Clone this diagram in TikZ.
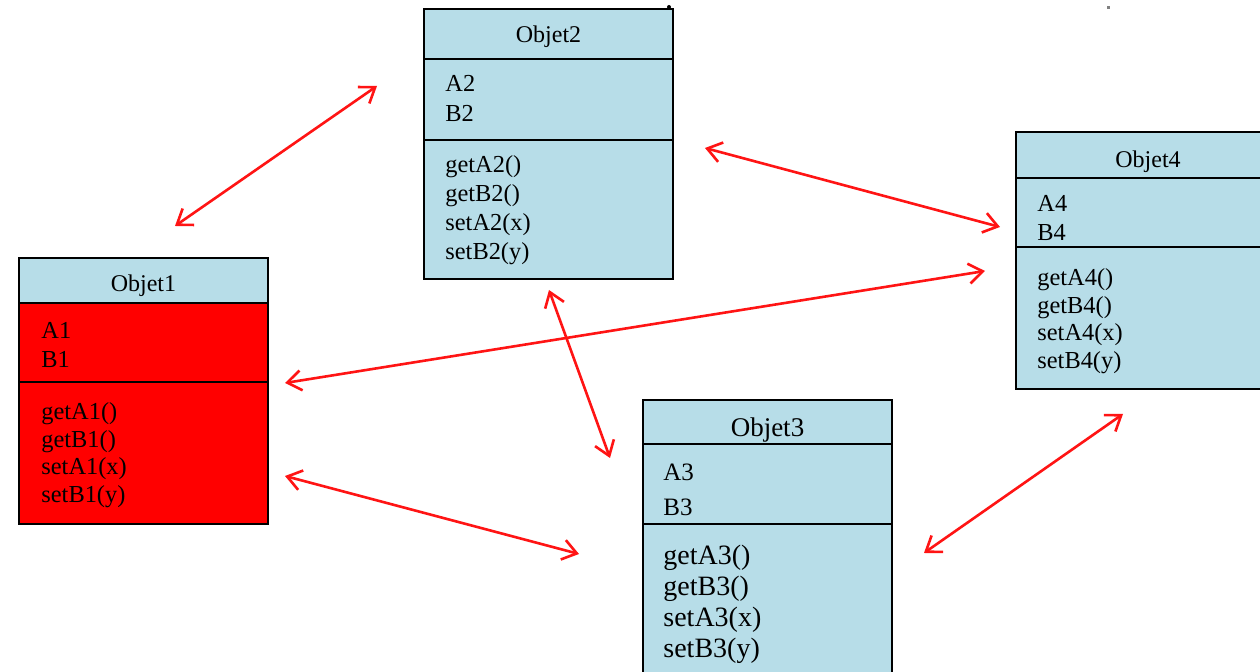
\documentclass[tikz,border=0pt]{standalone}
\usepackage{fontspec}
\setmainfont{Liberation Serif}
\usetikzlibrary{arrows.meta}

\definecolor{umlblue}{RGB}{183,221,232}
\definecolor{umlred}{RGB}{255,0,0}
\definecolor{linkred}{RGB}{255,20,20}

\tikzset{
  comp/.style={draw=black, line width=0.9pt, anchor=north west,
    minimum width=124.5pt, inner sep=0pt, outer sep=0pt, fill=umlblue},
  title/.style={font=\fontsize{12}{14}\selectfont, text depth=0pt},
  txt/.style={anchor=base west, inner sep=0pt, font=\fontsize{12.2}{14}\selectfont},
  link/.style={draw=linkred, line width=1.3pt,
    {Straight Barb[length=7pt,width=10pt]}-{Straight Barb[length=7pt,width=10pt]}}
}

% one text line per entry: prefix, x, first baseline, spacing, style, entries
\newcommand\umlrows[6]{%
  \foreach \t [count=\i] in {#6} {%
    \node[txt,#5] (#1\i) at (#2,{#3+(\i-1)*#4}) {\t};
  }%
}

\begin{document}
\begin{tikzpicture}[x=0.5pt,y=-0.5pt]
\useasboundingbox (0,0) rectangle (1260,672);
\clip (0,0) rectangle (1260,672);
\fill[white] (0,0) rectangle (1260,672);

% Objet1
\node[comp, minimum height=22.5pt, title, text height=11pt] (o1h) at (19,258) {Objet1};
\node[comp, minimum height=39.5pt, fill=umlred] (o1a) at (19,303) {};
\node[comp, minimum height=71pt, fill=umlred] (o1m) at (19,382) {};
\umlrows{o1a}{41}{339}{29}{}{A1,B1}
\umlrows{o1m}{41}{420}{27.5}{}{getA1(),getB1(),setA1(x),setB1(y)}

% Objet2
\node[comp, minimum height=25pt, title] (o2h) at (424,9) {Objet2};
\node[comp, minimum height=40.5pt] (o2a) at (424,59) {};
\node[comp, minimum height=69.5pt] (o2m) at (424,140) {};
\umlrows{o2a}{445}{92}{29.5}{}{A2,B2}
\umlrows{o2m}{445}{173}{29}{}{getA2(),getB2(),setA2(x),setB2(y)}
\fill (669,7) circle (2);

% Objet3
\node[comp, minimum height=22pt, title, font=\fontsize{13.5}{15}\selectfont, text height=15pt] (o3h) at (643,400) {Objet3};
\node[comp, minimum height=40pt] (o3a) at (643,444) {};
\node[comp, minimum height=90pt] (o3m) at (643,524) {};
\umlrows{o3a}{663}{481}{35}{font=\fontsize{12.5}{15}\selectfont}{A3,B3}
\umlrows{o3m}{663}{565}{31}{font=\fontsize{14}{16}\selectfont}{getA3(),getB3(),setA3(x),setB3(y)}

% Objet4 (runs off the right edge)
\node[comp, minimum width=132pt, minimum height=23pt, title, text height=13pt] (o4h) at (1016,132) {Objet4};
\node[comp, minimum width=132pt, minimum height=34.5pt] (o4a) at (1016,178) {};
\node[comp, minimum width=132pt, minimum height=71pt] (o4m) at (1016,247) {};
\umlrows{o4a}{1037}{212}{29}{}{A4,B4}
\umlrows{o4m}{1037}{286}{27.5}{}{getA4(),getB4(),setA4(x),setB4(y)}

\fill[gray] (1106.5,6.5) rectangle (1109.5,9.5);

% link end points
\coordinate (l1a) at (175,226);  \coordinate (l1b) at (377,86);
\coordinate (l2a) at (705,148);  \coordinate (l2b) at (1000,227);
\coordinate (l3a) at (285,383);  \coordinate (l3b) at (985,271);
\coordinate (l4a) at (549,290);  \coordinate (l4b) at (610,458);
\coordinate (l5a) at (285,476);  \coordinate (l5b) at (579,554);
\coordinate (l6a) at (924,553);  \coordinate (l6b) at (1123,414);

% links between the objects
\draw[link] (l1a) -- (l1b);
\draw[link] (l2a) -- (l2b);
\draw[link] (l3a) -- (l3b);
\draw[link] (l4a) -- (l4b);
\draw[link] (l5a) -- (l5b);
\draw[link] (l6a) -- (l6b);
\end{tikzpicture}
\end{document}
